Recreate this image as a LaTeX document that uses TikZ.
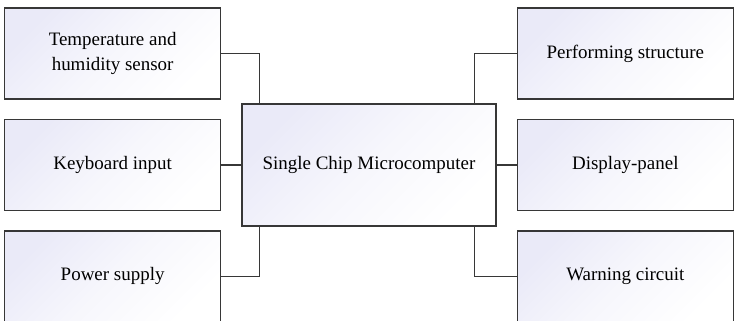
\documentclass[tikz,border=0pt]{standalone}
\usepackage{fontspec}
\setmainfont{Liberation Serif}
\usepackage{tikz}
\usetikzlibrary{positioning}
\definecolor{boxline}{RGB}{55,55,55}
\definecolor{boxtint}{RGB}{234,234,248}

\begin{document}
\begin{tikzpicture}[
    x=0.02cm, y=-0.02cm,
    node distance=3.8mm and 4.0mm,
    blk/.style={rectangle, draw=boxline, line width=0.8pt, top color=boxtint, bottom color=white,
               middle color=boxtint!40!white, shading angle=45, minimum width=4.32cm,
               minimum height=1.82cm, align=center, inner sep=0pt,
               font=\fontsize{10.8}{14.2}\selectfont},
    mcu/.style={blk, minimum width=5.08cm, minimum height=2.44cm},
    wire/.style={line width=0.6pt, boxline}
]
\useasboundingbox (0,0) rectangle (734,321);

\node[mcu] (chip) at (369,165) {Single Chip Microcomputer};

\node[blk, left=of chip] (kbd) {Keyboard input};
\node[blk, above=of kbd] (sensor) {Temperature and\\humidity sensor};
\node[blk, below=of kbd] (power) {Power supply};

\node[blk, right=of chip] (disp) {Display-panel};
\node[blk, above=of disp] (perf) {Performing structure};
\node[blk, below=of disp] (warn) {Warning circuit};

\draw[wire] (sensor.east) -| ([xshift=0.36cm]chip.north west);
\draw[wire] (kbd) -- (chip);
\draw[wire] (power.east) -| ([xshift=0.36cm]chip.south west);

\draw[wire] ([xshift=-0.44cm]chip.north east) |- (perf.west);
\draw[wire] (chip) -- (disp);
\draw[wire] ([xshift=-0.44cm]chip.south east) |- (warn.west);
\end{tikzpicture}
\end{document}
